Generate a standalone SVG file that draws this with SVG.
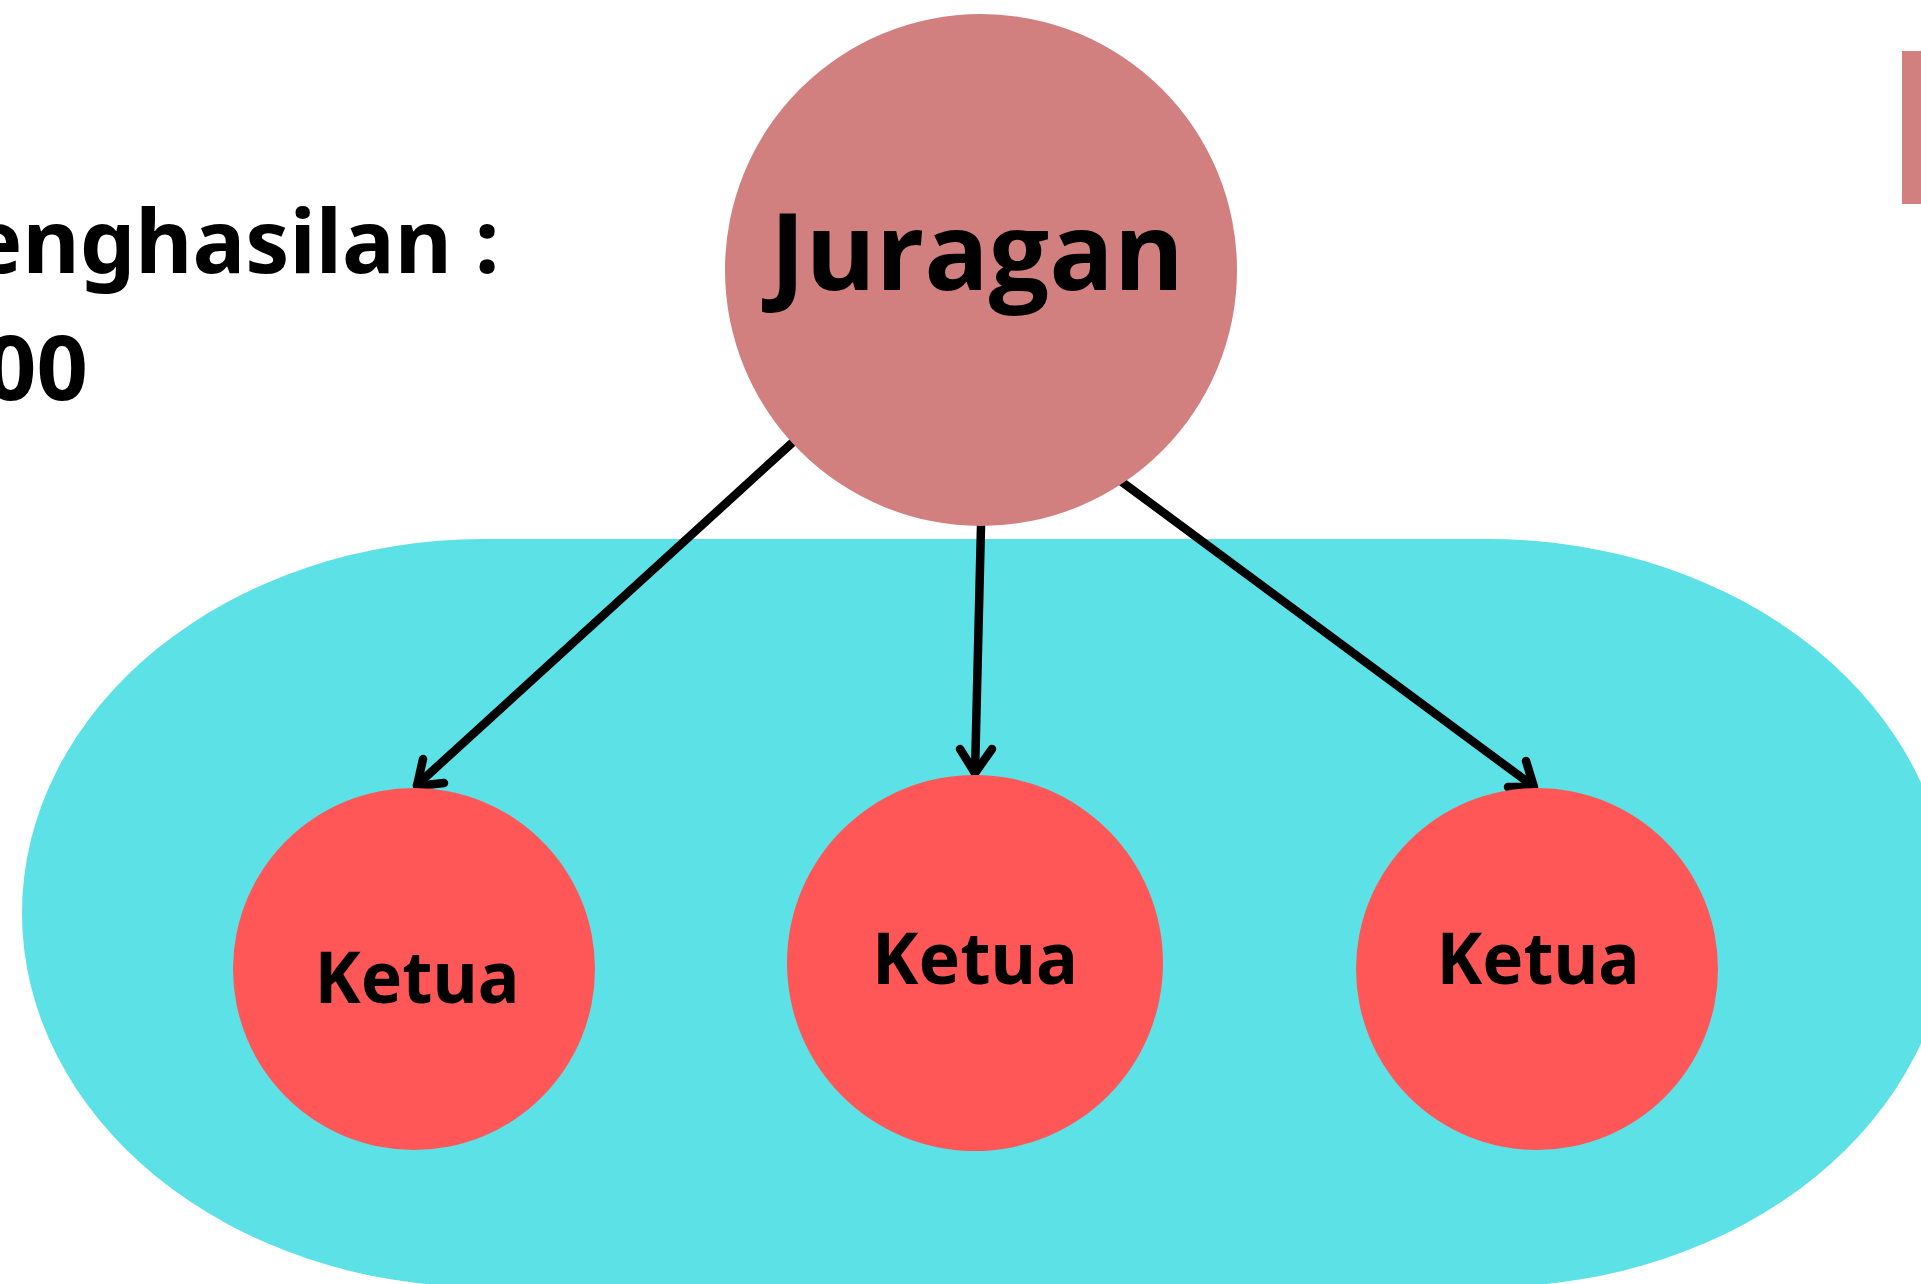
<svg xmlns="http://www.w3.org/2000/svg" width="1921" height="1284" viewBox="0 0 1921 1284">
<style>
.t{font-family:"Noto Sans","Open Sans","Liberation Sans",sans-serif;font-weight:700;fill:#000}
.ketua{fill:#FF5757}
.con{stroke:#000;stroke-width:8.5;stroke-linecap:round;stroke-linejoin:round;fill:none}
</style>
<rect width="1921" height="1284" fill="#fff"/>
<g id="group-area">
<rect x="22" y="539" width="1928" height="748" rx="462" ry="374" fill="#5CE1E6"/>
</g>
<g id="side-bar">
<rect x="1902" y="51" width="25" height="153" fill="#D27F7F"/>
</g>
<g id="income-label">
<text class="t" x="-30" y="273" font-size="88">enghasilan :</text>
<text class="t" x="88" y="400" font-size="90" text-anchor="end">00</text>
</g>
<g id="connectors">
<line class="con" x1="792" y1="443" x2="417" y2="785"/>
<polyline class="con" points="423,759 417,786 444,783"/>
<line class="con" x1="981" y1="526" x2="975" y2="773"/>
<polyline class="con" points="960,749 975,773 992,749"/>
<line class="con" x1="1122" y1="482" x2="1533" y2="786"/>
<polyline class="con" points="1526,761 1534,787 1508,787"/>
</g>
<g id="node-juragan">
<circle cx="981" cy="270" r="256" fill="#D27F7F"/>
<text class="t" x="977" y="290" font-size="108" text-anchor="middle" textLength="414" lengthAdjust="spacingAndGlyphs" style="font-family:'Open Sans','Noto Sans',sans-serif">Juragan</text>
</g>
<g id="node-ketua-1">
<circle class="ketua" cx="414" cy="969" r="181"/>
<text class="t" x="417" y="1003" font-size="72" text-anchor="middle" textLength="205" lengthAdjust="spacingAndGlyphs">Ketua</text>
</g>
<g id="node-ketua-2">
<circle class="ketua" cx="975" cy="963" r="188"/>
<text class="t" x="975" y="984" font-size="72" text-anchor="middle" textLength="206" lengthAdjust="spacingAndGlyphs">Ketua</text>
</g>
<g id="node-ketua-3">
<circle class="ketua" cx="1537" cy="969" r="181"/>
<text class="t" x="1538" y="984" font-size="72" text-anchor="middle" textLength="203" lengthAdjust="spacingAndGlyphs">Ketua</text>
</g>
</svg>
